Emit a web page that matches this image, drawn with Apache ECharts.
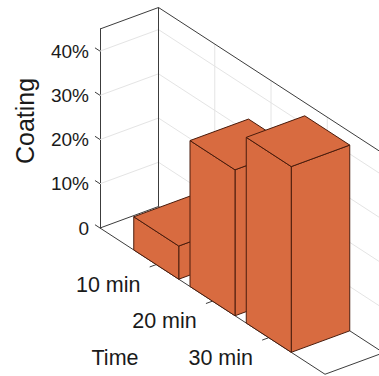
<!DOCTYPE html>
<html>
<head>
<meta charset="utf-8">
<script src="https://cdn.jsdelivr.net/npm/echarts@6/dist/echarts.min.js"></script>
<style>
  html, body { margin: 0; padding: 0; background: #fff; }
  #chart { width: 379px; height: 376px; }
</style>
</head>
<body>
<div id="chart"></div>
<script>
// Coating fraction per treatment time
const timeLabels = ['10 min', '20 min', '30 min'];
const timePositions = [1, 2, 3];
const coating = [0.075, 0.33, 0.42];
const coatingTicks = [0, 0.1, 0.2, 0.3, 0.4];
const timeRange = [0, 4];
const coatingRange = [0, 0.45];

// Oblique projection of the (time, depth, coating) box onto the screen
const FLOOR_SLOPE = 0.65;          // screen dy per dx along the time axis
const DEPTH = [58.5, -21.5];       // screen offset spanned by the depth axis
const BAR_HALF = 0.4;              // half bar width in time units
const BAR_FILL = '#D86B40';
const BAR_EDGE = '#4a1c0c';
const EDGE = '#3c3c3c';
const GRID = '#e4e4e4';
const TEXT = '#1a1a1a';
const FONT = 'Liberation Sans, Arial, sans-serif';

function project(api, t, d, z) {
  const p = api.coord([t, z]);
  const o = api.coord([timeRange[0], 0]);
  return [p[0] + d * DEPTH[0], p[1] + FLOOR_SLOPE * (p[0] - o[0]) + d * DEPTH[1]];
}

function seg(a, b, color, w) {
  return {
    type: 'line', silent: true,
    shape: { x1: a[0], y1: a[1], x2: b[0], y2: b[1] },
    style: { stroke: color, lineWidth: w || 1 }
  };
}

function renderFrame(params, api) {
  const P = (t, d, z) => project(api, t, d, z);
  const t0 = timeRange[0], t1 = timeRange[1], zTop = coatingRange[1];
  const kids = [];
  // grid on the two back walls and the floor
  coatingTicks.forEach(z => {
    if (z === 0) return;
    kids.push(seg(P(t0, 0, z), P(t0, 1, z), GRID));
    kids.push(seg(P(t0, 1, z), P(t1, 1, z), GRID));
  });
  timePositions.forEach(t => {
    kids.push(seg(P(t, 1, 0), P(t, 1, zTop), GRID));
    kids.push(seg(P(t, 0, 0), P(t, 1, 0), GRID));
  });
  // box edges
  kids.push(seg(P(t0, 1, 0), P(t0, 1, zTop), EDGE));
  kids.push(seg(P(t0, 0, zTop), P(t0, 1, zTop), EDGE));
  kids.push(seg(P(t0, 1, zTop), P(t1, 1, zTop), EDGE));
  kids.push(seg(P(t0, 0, 0), P(t0, 1, 0), EDGE));
  kids.push(seg(P(t0, 0, 0), P(t1, 0, 0), EDGE));
  kids.push(seg(P(t0, 1, 0), P(t1, 1, 0), EDGE));
  kids.push(seg(P(t1, 0, 0), P(t1, 1, 0), EDGE));
  // coating ticks, pointing back along the time axis
  const an = Math.hypot(1, FLOOR_SLOPE);
  coatingTicks.forEach(z => {
    const p = P(t0, 0, z);
    kids.push(seg(p, [p[0] - 6 / an, p[1] - 6 * FLOOR_SLOPE / an], EDGE));
  });
  // time ticks and labels, pointing out of the depth axis
  const dn = Math.hypot(DEPTH[0], DEPTH[1]);
  timePositions.forEach((t, i) => {
    const p = P(t, 0, 0);
    kids.push(seg(p, [p[0] - 7 * DEPTH[0] / dn, p[1] - 7 * DEPTH[1] / dn], EDGE));
    kids.push({
      type: 'text', silent: true,
      x: p[0] - 48, y: p[1] + 20,
      style: {
        text: timeLabels[i], fill: TEXT, fontSize: 21.5, fontFamily: FONT,
        align: 'center', verticalAlign: 'middle'
      }
    });
  });
  return { type: 'group', children: kids };
}

function renderBar(params, api) {
  const t = api.value(0), z = api.value(1);
  const a = t - BAR_HALF, b = t + BAR_HALF;
  const P = (tt, d, zz) => project(api, tt, d, zz);
  const face = pts => ({
    type: 'polygon',
    shape: { points: pts },
    style: { fill: BAR_FILL, stroke: BAR_EDGE, lineWidth: 1, lineJoin: 'round' }
  });
  return {
    type: 'group',
    children: [
      face([P(b, 0, 0), P(b, 1, 0), P(b, 1, z), P(b, 0, z)]),
      face([P(a, 0, 0), P(b, 0, 0), P(b, 0, z), P(a, 0, z)]),
      face([P(a, 0, z), P(b, 0, z), P(b, 1, z), P(a, 1, z)])
    ]
  };
}

const chart = echarts.init(document.getElementById('chart'), null, { renderer: 'svg' });
chart.setOption({
  animation: false,
  backgroundColor: '#fff',
  grid: { left: 100, right: 54, top: 29, bottom: 148, containLabel: false },
  xAxis: { type: 'value', min: timeRange[0], max: timeRange[1], show: false },
  yAxis: {
    type: 'value', min: coatingRange[0], max: coatingRange[1], interval: 0.1,
    axisLine: { show: true, lineStyle: { color: EDGE, width: 1 } },
    axisTick: { show: false },
    splitLine: { show: false },
    axisLabel: {
      margin: 11, color: TEXT, fontSize: 19, fontFamily: FONT,
      padding: [0, 0, 8, 0],
      formatter: v => {
        if (!coatingTicks.some(c => Math.abs(c - v) < 1e-9)) return '';
        return v === 0 ? '0' : Math.round(v * 100) + '%';
      }
    }
  },
  graphic: [
    { type: 'text', x: 25, y: 121, rotation: Math.PI / 2,
      style: { text: 'Coating', fill: TEXT, fontSize: 25, fontFamily: FONT, align: 'center', verticalAlign: 'middle' } },
    { type: 'text', x: 115, y: 358,
      style: { text: 'Time', fill: TEXT, fontSize: 21.5, fontFamily: FONT, align: 'center', verticalAlign: 'middle' } }
  ],
  series: [
    { type: 'custom', name: 'frame', z: 1, silent: true, renderItem: renderFrame, data: [[0, 0]] },
    { type: 'custom', name: 'Coating', z: 2, renderItem: renderBar,
      data: coating.map((v, i) => [timePositions[i], v]) }
  ]
});
</script>
</body>
</html>
